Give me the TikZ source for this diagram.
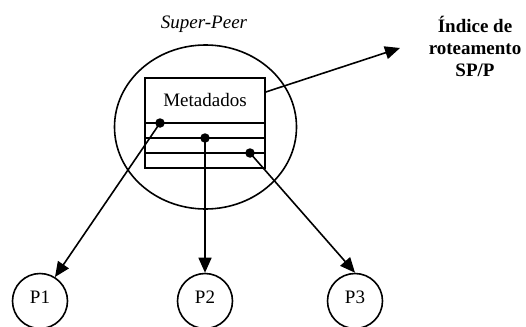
\documentclass[tikz,border=0pt]{standalone}
\usepackage{fontspec}
\setmainfont{Liberation Serif}
\usetikzlibrary{arrows.meta,shapes.geometric}
\begin{document}
\begin{tikzpicture}[x=1pt,y=-1pt,
  txt/.style={font=\fontsize{19}{22}\selectfont},
  arr/.style={line width=1.6pt,-{Triangle[length=15pt,width=13pt]}},
  cell/.style={draw,line width=1.5pt,minimum width=120pt,inner sep=0pt,txt},
  peer/.style={draw,circle,line width=1.6pt,minimum size=55pt,inner sep=0pt,
               text height=13pt,text depth=9pt,txt},
  dot/.style={circle,fill,inner sep=0pt,minimum size=9.5pt}]
\clip (0,0) rectangle (526,326);

% super-peer boundary and its title
\node[draw,ellipse,line width=1.6pt,minimum width=182pt,minimum height=164pt,inner sep=0pt] (sp) at (205.5,127) {};
\node[txt,font=\fontsize{19}{22}\selectfont\itshape,anchor=base] (title) at (204,29) {Super-Peer};

% metadata table: header and three rows
\node[cell,minimum height=45pt] (hdr) at (205,100.5) {Metadados};
\node[cell,minimum height=15pt] (r1) at (205,130.5) {};
\node[cell,minimum height=15pt] (r2) at (205,145.5) {};
\node[cell,minimum height=15pt] (r3) at (205,160.5) {};

% row entries
\node[dot] (d1) at (160,123) {};
\node[dot] (d2) at (205,138) {};
\node[dot] (d3) at (250,153) {};

% peers
\node[peer] (p1) at (40,301) {P1};
\node[peer] (p2) at (205,301) {P2};
\node[peer] (p3) at (355,301) {P3};

% routing index label
\node[txt,font=\fontsize{19}{22}\selectfont\bfseries,align=center] (idx) at (475,46.5) {Índice de\\roteamento\\SP/P};
\coordinate (tipA) at (400,48);

% connectors
\draw[arr] ([yshift=8.5pt]hdr.east) -- (tipA);
\draw[arr] (d1.center) -- (p1.58);
\draw[arr] (d2.center) -- (p2.north);
\draw[arr] (d3.center) -- (p3.north);
\end{tikzpicture}
\end{document}
